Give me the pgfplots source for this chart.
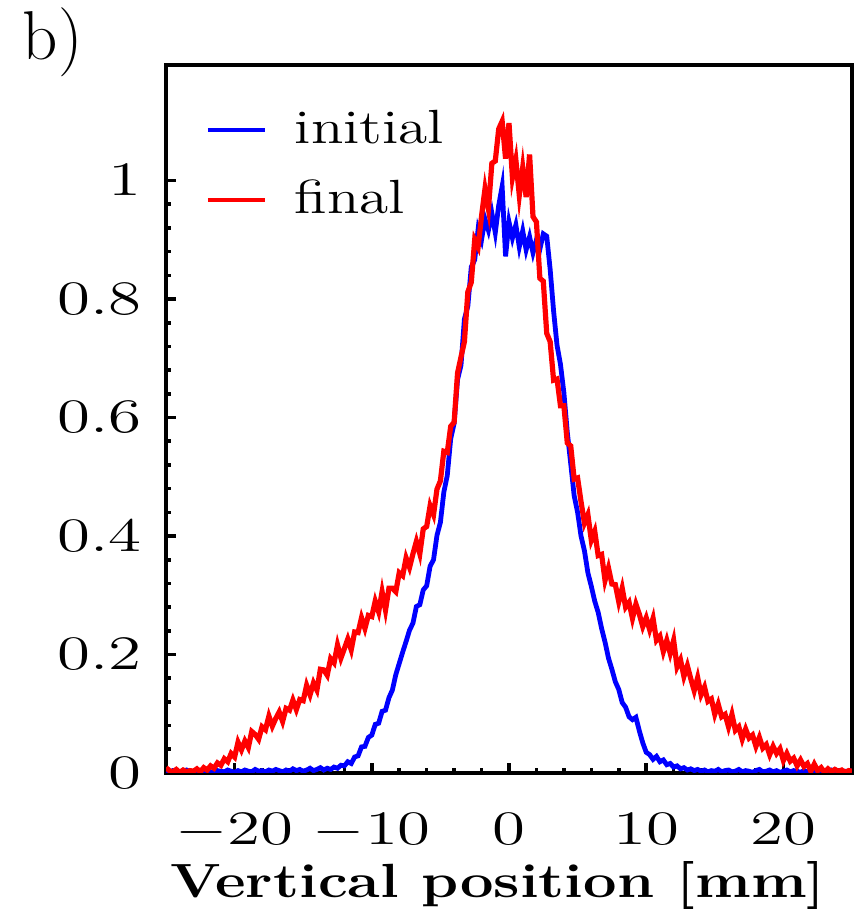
\documentclass[border=0pt]{standalone}
\usepackage{graphicx}
\usepackage{pgfplots}
\usepackage{pgfplotstable}
\pgfplotsset{compat=1.18}

\pgfplotstableread{
x y
-25 0.003
-24.75 0.001
-24.5 0.004
-24.25 0.002
-24 0.000
-23.75 0.003
-23.5 0.005
-23.25 0.002
-23 0.001
-22.75 0.004
-22.5 0.002
-22.25 0.003
-22 0.006
-21.75 0.002
-21.5 0.001
-21.25 0.004
-21 0.003
-20.75 0.002
-20.5 0.005
-20.25 0.003
-20 0.001
-19.75 0.004
-19.5 0.002
-19.25 0.005
-19 0.003
-18.75 0.002
-18.5 0.006
-18.25 0.003
-18 0.004
-17.75 0.002
-17.5 0.005
-17.25 0.003
-17 0.006
-16.75 0.004
-16.5 0.002
-16.25 0.005
-16 0.003
-15.75 0.007
-15.5 0.004
-15.25 0.006
-15 0.003
-14.75 0.005
-14.5 0.008
-14.25 0.004
-14 0.006
-13.75 0.009
-13.5 0.005
-13.25 0.008
-13 0.006
-12.75 0.010
-12.5 0.008
-12.25 0.013
-12 0.012
-11.75 0.019
-11.5 0.016
-11.25 0.027
-11 0.029
-10.75 0.044
-10.5 0.045
-10.25 0.060
-10 0.064
-9.75 0.082
-9.5 0.084
-9.25 0.104
-9 0.106
-8.75 0.127
-8.5 0.140
-8.25 0.166
-8 0.185
-7.75 0.204
-7.5 0.222
-7.25 0.241
-7 0.253
-6.75 0.281
-6.5 0.284
-6.25 0.309
-6 0.316
-5.75 0.349
-5.5 0.360
-5.25 0.401
-5 0.423
-4.75 0.474
-4.5 0.502
-4.25 0.564
-4 0.590
-3.75 0.664
-3.5 0.688
-3.25 0.766
-3 0.788
-2.75 0.854
-2.5 0.866
-2.25 0.918
-2 0.900
-1.75 0.935
-1.5 0.916
-1.25 0.945
-1 0.912
-0.75 0.958
-0.5 0.990
-0.25 0.872
0 0.930
0.25 0.903
0.5 0.925
0.75 0.888
1 0.915
1.25 0.883
1.5 0.905
1.75 0.878
2 0.900
2.25 0.884
2.5 0.910
2.75 0.906
3 0.850
3.25 0.780
3.5 0.722
3.75 0.690
4 0.642
4.25 0.575
4.5 0.522
4.75 0.468
5 0.440
5.25 0.400
5.5 0.375
5.75 0.338
6 0.315
6.25 0.290
6.5 0.271
6.75 0.244
7 0.221
7.25 0.194
7.5 0.175
7.75 0.154
8 0.141
8.25 0.119
8.5 0.111
8.75 0.095
9 0.090
9.25 0.094
9.5 0.071
9.75 0.051
10 0.035
10.25 0.031
10.5 0.023
10.75 0.028
11 0.019
11.25 0.022
11.5 0.014
11.75 0.016
12 0.010
12.25 0.012
12.5 0.007
12.75 0.009
13 0.005
13.25 0.007
13.5 0.004
13.75 0.006
14 0.003
14.25 0.005
14.5 0.002
14.75 0.004
15 0.003
15.25 0.006
15.5 0.002
15.75 0.004
16 0.005
16.25 0.002
16.5 0.003
16.75 0.006
17 0.002
17.25 0.004
17.5 0.003
17.75 0.001
18 0.004
18.25 0.006
18.5 0.002
18.75 0.003
19 0.005
19.25 0.002
19.5 0.004
19.75 0.001
20 0.003
20.25 0.005
20.5 0.002
20.75 0.004
21 0.003
21.25 0.001
21.5 0.004
21.75 0.002
22 0.005
22.25 0.003
22.5 0.001
22.75 0.004
23 0.002
23.25 0.003
23.5 0.005
23.75 0.002
24 0.004
24.25 0.001
24.5 0.003
24.75 0.002
25 0.004
}\initialdata

\pgfplotstableread{
x y
-25 0.009
-24.75 0.004
-24.5 0.002
-24.25 0.006
-24 0.001
-23.75 0.005
-23.5 0.002
-23.25 0.004
-23 0.003
-22.75 0.007
-22.5 0.002
-22.25 0.009
-22 0.005
-21.75 0.012
-21.5 0.008
-21.25 0.017
-21 0.013
-20.75 0.024
-20.5 0.019
-20.25 0.033
-20 0.027
-19.75 0.052
-19.5 0.039
-19.25 0.054
-19 0.043
-18.75 0.070
-18.5 0.065
-18.25 0.057
-18 0.078
-17.75 0.073
-17.5 0.096
-17.25 0.079
-17 0.092
-16.75 0.103
-16.5 0.087
-16.25 0.109
-16 0.106
-15.75 0.123
-15.5 0.107
-15.25 0.124
-15 0.122
-14.75 0.148
-14.5 0.132
-14.25 0.152
-14 0.140
-13.75 0.175
-13.5 0.174
-13.25 0.165
-13 0.193
-12.75 0.186
-12.5 0.216
-12.25 0.194
-12 0.210
-11.75 0.226
-11.5 0.208
-11.25 0.238
-11 0.237
-10.75 0.262
-10.5 0.244
-10.25 0.266
-10 0.264
-9.75 0.290
-9.5 0.272
-9.25 0.306
-9 0.275
-8.75 0.312
-8.5 0.312
-8.25 0.306
-8 0.338
-7.75 0.333
-7.5 0.363
-7.25 0.347
-7 0.370
-6.75 0.391
-6.5 0.370
-6.25 0.412
-6 0.416
-5.75 0.451
-5.5 0.436
-5.25 0.479
-5 0.493
-4.75 0.543
-4.5 0.541
-4.25 0.585
-4 0.592
-3.75 0.675
-3.5 0.702
-3.25 0.728
-3 0.812
-2.75 0.828
-2.5 0.900
-2.25 0.888
-2 0.940
-1.75 0.986
-1.5 0.952
-1.25 1.029
-1 1.033
-0.75 1.087
-0.5 1.100
-0.25 1.037
0 1.097
0.25 1.005
0.5 1.035
0.75 0.975
1 1.022
1.25 0.972
1.5 1.044
1.75 0.939
2 0.930
2.25 0.835
2.5 0.830
2.75 0.742
3 0.728
3.25 0.663
3.5 0.665
3.75 0.620
4 0.620
4.25 0.557
4.5 0.552
4.75 0.496
5 0.498
5.25 0.458
5.5 0.422
5.75 0.436
6 0.393
6.25 0.408
6.5 0.367
6.75 0.369
7 0.325
7.25 0.346
7.5 0.319
7.75 0.318
8 0.289
8.25 0.312
8.5 0.280
8.75 0.288
9 0.261
9.25 0.285
9.5 0.268
9.75 0.247
10 0.262
10.25 0.242
10.5 0.261
10.75 0.224
11 0.231
11.25 0.205
11.5 0.224
11.75 0.202
12 0.224
12.25 0.179
12.5 0.191
12.75 0.163
13 0.181
13.25 0.159
13.5 0.139
13.75 0.161
14 0.132
14.25 0.145
14.5 0.121
14.75 0.125
15 0.099
15.25 0.116
15.5 0.095
15.75 0.099
16 0.078
16.25 0.099
16.5 0.072
16.75 0.078
17 0.057
17.25 0.074
17.5 0.059
17.75 0.064
18 0.045
18.25 0.060
18.5 0.042
18.75 0.048
19 0.031
19.25 0.045
19.5 0.033
19.75 0.041
20 0.021
20.25 0.033
20.5 0.020
20.75 0.025
21 0.012
21.25 0.022
21.5 0.011
21.75 0.016
22 0.003
22.25 0.015
22.5 0.004
22.75 0.009
23 0.001
23.25 0.007
23.5 0.002
23.75 0.006
24 0.003
24.25 0.005
24.5 0.001
24.75 0.004
25 0.003
}\finaldata

\newcommand{\sx}[1]{\scalebox{1.24}[1]{#1}}
\newcommand{\sxt}[1]{\scalebox{1.4}[1]{#1}}

\begin{document}
\begin{tikzpicture}[font=\fontsize{12}{14.4}\selectfont]
\begin{axis}[
  at={(41.5pt,36.25pt)}, anchor=south west,
  scale only axis, width=171.5pt, height=177pt,
  xmin=-25, xmax=25, ymin=0, ymax=1.195,
  axis line style={line width=0.9pt},
  tick pos=left, tick align=inside,
  xtick={-20,-10,0,10,20}, minor x tick num=4,
  ytick={0,0.2,0.4,0.6,0.8,1}, minor y tick num=4,
  major tick length=2.4pt, minor tick length=1.3pt,
  every tick/.style={line width=0.9pt, black},
  xticklabel={\sxt{$\pgfmathprintnumber{\tick}$}},
  yticklabel={\sxt{$\pgfmathprintnumber{\tick}$}},
  xticklabel style={yshift=-6.5pt},
  yticklabel style={xshift=-2.5pt},
  xlabel={\sx{\bfseries Vertical position [mm]}},
  xlabel style={at={(rel axis cs:0.484,0)}, anchor=base, yshift=-31pt},
  legend style={at={(rel axis cs:0.057,0.948)}, anchor=north west, draw=none, fill=none,
    inner sep=0pt, row sep=3.5pt, column sep=5pt, nodes={inner sep=2pt}},
  legend cell align=left,
  legend image code/.code={\draw[#1, line width=1pt] (0pt,0pt) -- (14.25pt,0pt);},
]
\addplot[blue, line width=1.2pt] table[x=x, y=y] {\initialdata};
\addlegendentry{\sx{initial}}
\addplot[red, line width=1.3pt] table[x=x, y=y] {\finaldata};
\addlegendentry{\sx{final}}
\end{axis}
\node[anchor=base west, inner sep=0pt, font=\fontsize{17.28}{20}\selectfont] at (5.5pt,214.5pt) {b)};
\pgfresetboundingbox
\useasboundingbox (0,0) rectangle (214.5pt,229.5pt);
\end{tikzpicture}
\end{document}
